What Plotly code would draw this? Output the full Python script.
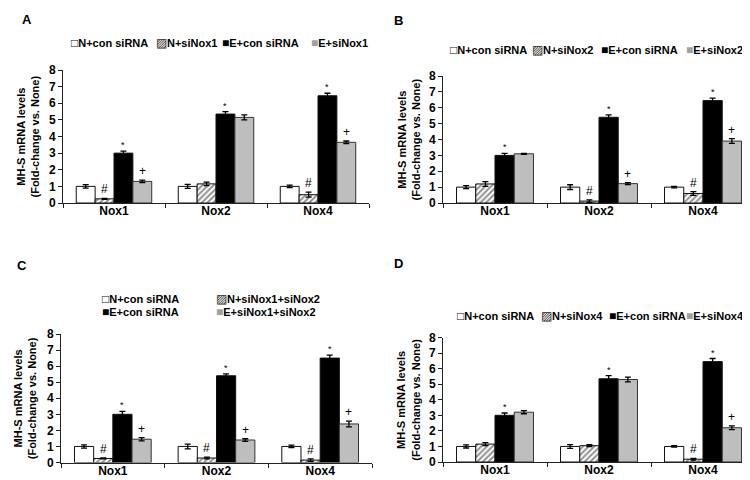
import plotly.graph_objects as go

categories = ["Nox1", "Nox2", "Nox4"]

# ---- Panel A ----
a_names = ["N+con siRNA", "N+siNox1", "E+con siRNA", "E+siNox1"]
a_n_con = [1.0, 1.0, 1.0]
a_n_si = [0.25, 1.15, 0.5]
a_e_con = [3.0, 5.35, 6.45]
a_e_si = [1.3, 5.15, 3.65]
a_err_n_con = [0.1, 0.12, 0.08]
a_err_n_si = [0.03, 0.1, 0.15]
a_err_e_con = [0.12, 0.15, 0.15]
a_err_e_si = [0.08, 0.15, 0.08]
a_sig_n_si = ["#", "", "#"]
a_sig_e_con = ["*", "*", "*"]
a_sig_e_si = ["+", "", "+"]

# ---- Panel B ----
b_names = ["N+con siRNA", "N+siNox2", "E+con siRNA", "E+siNox2"]
b_n_con = [1.0, 1.0, 1.0]
b_n_si = [1.2, 0.12, 0.6]
b_e_con = [3.0, 5.4, 6.45]
b_e_si = [3.1, 1.22, 3.9]
b_err_n_con = [0.1, 0.15, 0.05]
b_err_n_si = [0.15, 0.08, 0.12]
b_err_e_con = [0.12, 0.15, 0.15]
b_err_e_si = [0.03, 0.06, 0.15]
b_sig_n_si = ["", "#", "#"]
b_sig_e_con = ["*", "*", "*"]
b_sig_e_si = ["", "+", "+"]

# ---- Panel C ----
c_names = ["N+con siRNA", "N+siNox1+siNox2", "E+con siRNA", "E+siNox1+siNox2"]
c_n_con = [1.0, 1.0, 1.0]
c_n_si = [0.25, 0.28, 0.15]
c_e_con = [3.0, 5.4, 6.5]
c_e_si = [1.45, 1.4, 2.4]
c_err_n_con = [0.1, 0.15, 0.08]
c_err_n_si = [0.03, 0.05, 0.08]
c_err_e_con = [0.18, 0.12, 0.18]
c_err_e_si = [0.1, 0.08, 0.18]
c_sig_n_si = ["#", "#", "#"]
c_sig_e_con = ["*", "*", "*"]
c_sig_e_si = ["+", "+", "+"]

# ---- Panel D ----
d_names = ["N+con siRNA", "N+siNox4", "E+con siRNA", "E+siNox4"]
d_n_con = [1.0, 1.0, 1.0]
d_n_si = [1.15, 1.05, 0.18]
d_e_con = [3.0, 5.35, 6.45]
d_e_si = [3.2, 5.3, 2.2]
d_err_n_con = [0.1, 0.12, 0.05]
d_err_n_si = [0.1, 0.06, 0.05]
d_err_e_con = [0.15, 0.2, 0.2]
d_err_e_si = [0.1, 0.15, 0.12]
d_sig_n_si = ["", "", "#"]
d_sig_e_con = ["*", "*", "*"]
d_sig_e_si = ["", "", "+"]

yticks = [0, 1, 2, 3, 4, 5, 6, 7, 8]
ytitle = "<b>MH-S mRNA levels<br>(Fold-change vs. None)</b>"

W, H = 750, 480
FONT = "Liberation Sans, Arial, sans-serif"
BARGAP = 0.26
NSER = 4

def xd(a, b):
    return [a / W, b / W]

def yd(top, bottom):
    return [1 - bottom / H, 1 - top / H]

def px(x):
    return x / W

def py(y):
    return 1 - y / H

styles = [
    dict(color="white", line=dict(color="#111", width=1)),
    dict(color="white", line=dict(color="#111", width=1),
         pattern=dict(shape="/", fgcolor="#222", bgcolor="white", size=4, solidity=0.5)),
    dict(color="black", line=dict(color="#111", width=1)),
    dict(color="#BEBEBE", line=dict(color="#333", width=1)),
]

panels = [
    dict(names=a_names, vals=[a_n_con, a_n_si, a_e_con, a_e_si],
         errs=[a_err_n_con, a_err_n_si, a_err_e_con, a_err_e_si],
         sigs=[["", "", ""], a_sig_n_si, a_sig_e_con, a_sig_e_si],
         x=xd(55, 361), y=yd(62, 195), label="A", lab=(19, 11), tx=19,
         leg=[(61, 35), (146, 35), (212, 35), (301, 35)]),
    dict(names=b_names, vals=[b_n_con, b_n_si, b_e_con, b_e_si],
         errs=[b_err_n_con, b_err_n_si, b_err_e_con, b_err_e_si],
         sigs=[["", "", ""], b_sig_n_si, b_sig_e_con, b_sig_e_si],
         x=xd(435, 747), y=yd(68, 195), label="B", lab=(390, 12), tx=400,
         leg=[(440, 42), (522, 42), (591, 42), (676, 42)]),
    dict(names=c_names, vals=[c_n_con, c_n_si, c_e_con, c_e_si],
         errs=[c_err_n_con, c_err_n_si, c_err_e_con, c_err_e_si],
         sigs=[["", "", ""], c_sig_n_si, c_sig_e_con, c_sig_e_si],
         x=xd(53, 364), y=yd(326, 454.5), label="C", lab=(14, 257), tx=17,
         leg=[(92, 291), (206, 291), (92, 304), (206, 304)]),
    dict(names=d_names, vals=[d_n_con, d_n_si, d_e_con, d_e_si],
         errs=[d_err_n_con, d_err_n_si, d_err_e_con, d_err_e_si],
         sigs=[["", "", ""], d_sig_n_si, d_sig_e_con, d_sig_e_si],
         x=xd(435, 747), y=yd(329.5, 454), label="D", lab=(390, 255), tx=400,
         leg=[(447, 308), (531, 308), (599, 308), (676, 308)]),
]

legend_glyphs = [
    "<span style='color:#111;font-size:12px'>□</span>",
    "<span style='color:#222;font-size:12px'>▨</span>",
    "<span style='color:#000;font-size:12px'>■</span>",
    "<span style='color:#A0A0A0;font-size:12px'>■</span>",
]

fig = go.Figure()
annotations = []
layout_axes = {}
bw = (1 - BARGAP) / NSER

for p_i, p in enumerate(panels):
    n = p_i + 1
    xa = "x" if n == 1 else f"x{n}"
    ya = "y" if n == 1 else f"y{n}"
    for s in range(NSER):
        fig.add_trace(go.Bar(
            x=categories, y=p["vals"][s], name=p["names"][s],
            xaxis=xa, yaxis=ya, showlegend=False,
            marker=styles[s],
            error_y=dict(type="data", array=p["errs"][s], color="black",
                         thickness=1.3, width=3),
        ))
        off = (s - (NSER - 1) / 2) * bw
        for c_i, sig in enumerate(p["sigs"][s]):
            if sig:
                fs = 9 if sig == "*" else 12
                annotations.append(dict(
                    x=c_i + off, y=p["vals"][s][c_i] + p["errs"][s][c_i],
                    xref=xa, yref=ya, text=sig, showarrow=False,
                    yanchor="bottom", yshift=0 if sig != "*" else -1,
                    font=dict(family=FONT, size=fs, color="black"),
                ))
    # panel label
    annotations.append(dict(
        x=px(p["lab"][0]), y=py(p["lab"][1]), xref="paper", yref="paper",
        text="<b>" + p["label"] + "</b>", showarrow=False,
        xanchor="center", yanchor="middle",
        font=dict(family=FONT, size=13, color="black"),
    ))
    # y-axis title
    annotations.append(dict(
        x=px(p["tx"]), y=(p["y"][0] + p["y"][1]) / 2, xref="paper", yref="paper",
        text=ytitle, showarrow=False, textangle=-90,
        xanchor="center", yanchor="middle",
        font=dict(family=FONT, size=11, color="black"),
    ))
    # legend entries
    for s in range(NSER):
        lx, ly = p["leg"][s]
        annotations.append(dict(
            x=px(lx), y=py(ly), xref="paper", yref="paper",
            text=legend_glyphs[s] + "<b>" + p["names"][s] + "</b>",
            showarrow=False, xanchor="left", yanchor="middle",
            font=dict(family=FONT, size=11, color="black"),
        ))
    xkey = "xaxis" if n == 1 else f"xaxis{n}"
    ykey = "yaxis" if n == 1 else f"yaxis{n}"
    layout_axes[xkey] = dict(
        domain=p["x"], anchor=ya, type="category", range=[-0.5, 2.5],
        showline=True, linecolor="#222", linewidth=1,
        ticks="outside", tickson="boundaries", ticklen=4, tickcolor="#222",
        ticklabelstandoff=-3,
        tickfont=dict(family=FONT, size=12, color="black", weight="bold"),
        showgrid=False, zeroline=False, fixedrange=True,
    )
    layout_axes[ykey] = dict(
        domain=p["y"], anchor=xa, range=[0, 8], tickvals=yticks,
        showline=True, linecolor="#222", linewidth=1,
        ticks="outside", ticklen=4, tickcolor="#222",
        tickfont=dict(family=FONT, size=12, color="black", weight="bold"),
        showgrid=False, zeroline=False, automargin=False,
    )

fig.update_layout(
    width=W, height=H, margin=dict(l=0, r=0, t=0, b=0),
    paper_bgcolor="white", plot_bgcolor="white",
    barmode="group", bargap=BARGAP, bargroupgap=0,
    annotations=annotations,
    shapes=[dict(type="line", xref="paper", yref="paper",
                 x0=747.5 / W, x1=747.5 / W, y0=0, y1=1,
                 line=dict(color="#999", width=1))],
    **layout_axes,
)

fig.write_html("out.html")
